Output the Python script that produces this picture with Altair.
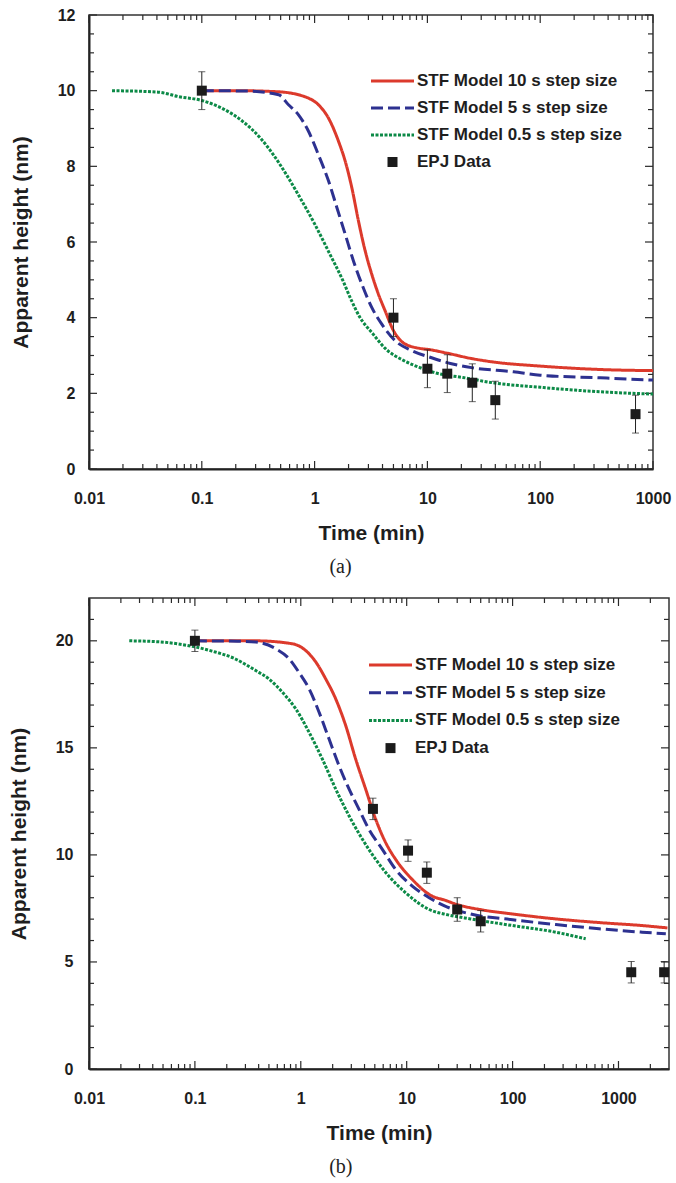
import altair as alt
import pandas as pd

# ---------------- series definitions ----------------
SERIES = ["STF Model 10 s step size", "STF Model 5 s step size",
          "STF Model 0.5 s step size", "EPJ Data"]
COLORS = ["#dc3a2c", "#2d3190", "#0c8a47", "#1b1b1b"]
DASHES = [[1, 0], [12, 5], [3, 1.5], [1, 0]]

# ---------------- panel (a) ----------------
red_a_t = [0.1, 0.2, 0.48, 0.885, 1.08, 1.33, 1.63, 1.87, 2.14, 2.45, 2.81, 3.21, 3.68,
           4.22, 5.0, 6.3, 8.9, 10.2, 14.5, 24.6, 38, 100, 340, 1000]
red_a_h = [10, 10, 9.97, 9.8, 9.63, 9.27, 8.66, 8.13, 7.43, 6.55, 5.76, 5.15, 4.62,
           4.18, 3.66, 3.31, 3.18, 3.16, 3.07, 2.92, 2.83, 2.72, 2.63, 2.6]
blue_a_t = [0.1, 0.25, 0.48, 0.59, 0.72, 0.885, 1.08, 1.33, 1.58, 1.87, 2.21, 2.62,
            3.21, 3.94, 5.18, 7.26, 10.9, 16, 24.6, 58, 100, 340, 1000]
blue_a_h = [10, 9.99, 9.89, 9.62, 9.36, 8.92, 8.31, 7.61, 6.9, 6.2, 5.5, 4.89,
            4.27, 3.83, 3.39, 3.13, 2.94, 2.79, 2.68, 2.57, 2.48, 2.41, 2.35]
green_a_t = [0.016, 0.041, 0.063, 0.1, 0.15, 0.23, 0.33, 0.43, 0.56, 0.74, 1.0, 1.36,
             1.77, 2.11, 2.51, 3.27, 4.25, 6.04, 8.58, 12.2, 20.6, 38, 100, 340, 1000]
green_a_h = [10, 9.96, 9.84, 9.74, 9.54, 9.19, 8.75, 8.31, 7.79, 7.18, 6.48, 5.69,
             5.0, 4.47, 4.02, 3.58, 3.18, 2.88, 2.68, 2.53, 2.42, 2.28, 2.16, 2.04, 1.98]
epj_a_t = [0.1, 5, 10, 15, 25, 40, 700]
epj_a_h = [10, 4.0, 2.65, 2.52, 2.28, 1.82, 1.45]
epj_a_e = [0.5, 0.5, 0.5, 0.5, 0.5, 0.5, 0.5]

# ---------------- panel (b) ----------------
red_b_t = [0.1, 0.2, 0.376, 0.835, 1.11, 1.39, 1.72, 2.14, 2.66, 3.3, 4.1, 5.1, 6.34,
           7.87, 11.3, 17.5, 22.5, 30, 52, 100, 256, 656, 1670, 2900]
red_b_h = [20, 20, 20, 19.86, 19.55, 19.0, 18.22, 17.28, 16.03, 14.47, 13.07, 11.66,
           10.57, 9.79, 8.85, 8.07, 7.9, 7.68, 7.43, 7.24, 7.01, 6.84, 6.7, 6.59]
blue_b_t = [0.1, 0.25, 0.376, 0.58, 0.776, 0.96, 1.2, 1.49, 1.85, 2.3, 2.86, 3.55, 4.41,
            5.89, 7.87, 11.3, 16.3, 22.5, 40, 100, 256, 656, 1670, 2800]
blue_b_h = [20, 19.98, 19.94, 19.63, 19.16, 18.53, 17.75, 16.66, 15.41, 14.16, 13.07,
            12.13, 11.19, 10.26, 9.32, 8.54, 8.0, 7.63, 7.24, 6.97, 6.75, 6.55, 6.39, 6.32]
green_b_t = [0.024, 0.047, 0.075, 0.1, 0.145, 0.23, 0.376, 0.50, 0.67, 0.90, 1.2, 1.6,
             2.14, 2.86, 3.82, 5.1, 6.81, 9.78, 16.3, 24.6, 40, 100, 256, 490]
green_b_h = [20, 19.95, 19.83, 19.72, 19.52, 19.2, 18.61, 18.22, 17.6, 16.81, 15.72,
             14.47, 13.07, 11.82, 10.73, 9.79, 9.0, 8.23, 7.45, 7.2, 7.01, 6.7, 6.39, 6.08]
epj_b_t = [0.1, 4.8, 10.3, 15.5, 30, 50, 1320, 2700]
epj_b_h = [20, 12.15, 10.2, 9.17, 7.45, 6.9, 4.52, 4.52]
epj_b_e = [0.5, 0.5, 0.5, 0.5, 0.55, 0.5, 0.5, 0.5]

# ---------------- axis tick values ----------------
X_DECADES = [0.01, 0.1, 1, 10, 100, 1000]
Y_MAJOR_A = [0, 2, 4, 6, 8, 10, 12]
Y_MINOR_A = [1, 3, 5, 7, 9, 11] + [0.5, 1.5, 2.5, 3.5, 4.5, 5.5, 6.5, 7.5, 8.5, 9.5, 10.5, 11.5]
Y_MAJOR_B = [0, 5, 10, 15, 20]
Y_MINOR_B = [1, 2, 3, 4, 6, 7, 8, 9, 11, 12, 13, 14, 16, 17, 18, 19, 21]

FONT = "Liberation Sans"
TICK = "#2a2a2a"


def log_minor(upper):
    return [k * d for d in X_DECADES for k in range(2, 10) if k * d < upper]


def panel(curves, et, eh, ee, xdom, ydom, W, H, ymaj, ymin, caption, lx, ly, lstep,
          ylabpad):
    xs = alt.Scale(type="log", domain=xdom, nice=False)
    ys = alt.Scale(domain=ydom, nice=False, zero=False)
    xax = alt.Axis(values=X_DECADES, format="~g", ticks=False, tickSize=0, grid=False,
                   labelFlush=False, labelOverlap=False, labelPadding=21, titlePadding=16)
    yax = alt.Axis(values=ymaj, ticks=False, tickSize=0, grid=False,
                   labelPadding=ylabpad, titlePadding=26)

    def X(f):
        return alt.X(f"{f}:Q", scale=xs, axis=xax, title="Time (min)")

    def Y(f):
        return alt.Y(f"{f}:Q", scale=ys, axis=yax, title="Apparent height (nm)")

    layers = []
    xmaj_df = pd.DataFrame({"t": X_DECADES})
    xmin_df = pd.DataFrame({"t": log_minor(xdom[1])})
    ymaj_df = pd.DataFrame({"h": ymaj})
    ymin_df = pd.DataFrame({"h": ymin})
    for df, ln in ((xmaj_df, 8), (xmin_df, 5)):
        layers.append(alt.Chart(df).mark_rule(color=TICK, strokeWidth=1.2).encode(
            x=X("t"), y=alt.value(H), y2=alt.value(H - ln)))
        layers.append(alt.Chart(df).mark_rule(color=TICK, strokeWidth=1.2).encode(
            x=X("t"), y=alt.value(0), y2=alt.value(ln)))
    for df, ln in ((ymaj_df, 8), (ymin_df, 5)):
        layers.append(alt.Chart(df).mark_rule(color=TICK, strokeWidth=1.2).encode(
            y=Y("h"), x=alt.value(0), x2=alt.value(ln)))
        layers.append(alt.Chart(df).mark_rule(color=TICK, strokeWidth=1.2).encode(
            y=Y("h"), x=alt.value(W), x2=alt.value(W - ln)))

    rows = []
    for name, (ts, hs) in zip(SERIES[:3], curves):
        for t, h in zip(ts, hs):
            rows.append({"t": t, "h": h, "series": name})
    line_df = pd.DataFrame(rows)

    color = alt.Color("series:N", scale=alt.Scale(domain=SERIES, range=COLORS), legend=None)
    dash = alt.StrokeDash("series:N", scale=alt.Scale(domain=SERIES, range=DASHES),
                          legend=None)

    layers.append(alt.Chart(line_df).mark_line(strokeWidth=3, interpolate="monotone").encode(
        x=X("t"), y=Y("h"), color=color, strokeDash=dash))

    epj = pd.DataFrame({"t": et, "h": eh,
                        "lo": [h - e for h, e in zip(eh, ee)],
                        "hi": [h + e for h, e in zip(eh, ee)],
                        "series": [SERIES[3]] * len(et)})
    layers.append(alt.Chart(epj).mark_rule(color="#222", strokeWidth=1).encode(
        x=X("t"), y=Y("lo"), y2=alt.Y2("hi:Q")))
    for f in ("lo", "hi"):
        layers.append(alt.Chart(epj).mark_tick(color="#222", orient="horizontal",
                                               size=7, thickness=1).encode(
            x=X("t"), y=Y(f)))
    layers.append(alt.Chart(epj).mark_square(size=100, opacity=1, color="#1b1b1b").encode(
        x=X("t"), y=Y("h")))

    # legend (drawn in the panel's pixel space)
    for i, name in enumerate(SERIES):
        yy = ly + i * lstep
        ldf = pd.DataFrame({"series": [name]})
        if i < 3:
            layers.append(alt.Chart(ldf).mark_rule(strokeWidth=3).encode(
                x=alt.value(lx), x2=alt.value(lx + 43), y=alt.value(yy),
                color=color, strokeDash=dash))
        else:
            layers.append(alt.Chart(ldf).mark_square(size=100, opacity=1).encode(
                x=alt.value(lx + 21.5), y=alt.value(yy), color=color))
        layers.append(alt.Chart(ldf).mark_text(
            align="left", baseline="middle", font=FONT, fontSize=17, fontWeight="bold",
            color="#1e1e1e").encode(
            x=alt.value(lx + 46), y=alt.value(yy), text="series:N"))

    return alt.layer(*layers).properties(
        width=W, height=H,
        title=alt.TitleParams(caption, orient="bottom", frame="bounds", anchor="middle",
                              font="Liberation Serif", fontSize=20, fontWeight="normal",
                              color="#222", offset=14))


a = panel([(red_a_t, red_a_h), (blue_a_t, blue_a_h), (green_a_t, green_a_h)],
          epj_a_t, epj_a_h, epj_a_e, [0.01, 1000], [0, 12], 564, 454,
          Y_MAJOR_A, Y_MINOR_A, "(a)", 282, 66, 27, 14)
b = panel([(red_b_t, red_b_h), (blue_b_t, blue_b_h), (green_b_t, green_b_h)],
          epj_b_t, epj_b_h, epj_b_e, [0.01, 3000], [0, 22], 580, 471,
          Y_MAJOR_B, Y_MINOR_B, "(b)", 280, 67, 27.7, 16)

chart = alt.vconcat(a, b, spacing=18).properties(
    padding={"left": 7, "top": 6, "right": 0, "bottom": 0},
    background="white",
).configure_view(stroke="#333", strokeWidth=1.5).configure_axis(
    labelFont=FONT, labelFontSize=16, labelFontWeight="bold", labelColor="#1e1e1e",
    titleFont=FONT, titleFontSize=21, titleFontWeight="bold", titleColor="#1e1e1e",
    domainColor="#222", domainWidth=2,
)

chart.save("out.html", embed_options={"renderer": "svg", "actions": False})
